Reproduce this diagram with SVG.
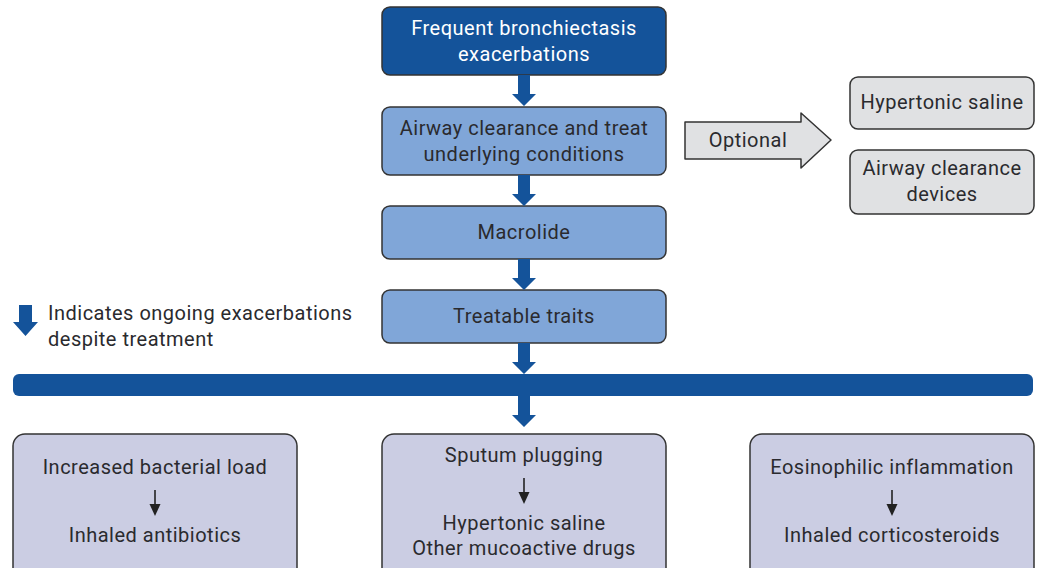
<svg xmlns="http://www.w3.org/2000/svg" width="1038" height="568" viewBox="0 0 1038 568">
<defs>
<style>
text{font-family:Roboto,"Liberation Sans",sans-serif;font-size:20px;letter-spacing:0.5px;fill:#2a2a2e;text-anchor:middle}
.box{stroke:#333;stroke-width:1.5}
.dark{fill:#14539a}
.mid{fill:#80a6d8}
.grey{fill:#e0e1e3}
.lav{fill:#cbcde3}
.wt{fill:#fff}
.barrow{fill:#14539a}
</style>
<path id="ba" d="M-6,0 H6 V19 H12 L0,31 L-12,19 H-6 Z"/>
</defs>
<rect width="1038" height="568" fill="#fff"/>
<g id="n1"><rect class="box dark" x="382" y="7" width="284" height="68" rx="8"/><text class="wt" x="524" y="35">Frequent bronchiectasis</text><text class="wt" x="524" y="61">exacerbations</text></g>
<g id="n2"><rect class="box mid" x="382" y="107" width="284" height="68" rx="8"/><text x="524" y="135">Airway clearance and treat</text><text x="524" y="161">underlying conditions</text></g>
<g id="n3"><rect class="box mid" x="382" y="206" width="284" height="53" rx="8"/><text x="524" y="239">Macrolide</text></g>
<g id="n4"><rect class="box mid" x="382" y="290" width="284" height="53" rx="8"/><text x="524" y="323">Treatable traits</text></g>
<g id="opt"><path class="box grey" d="M685,122 H801 V113 L831,140 L801,168 V159 H685 Z" stroke-linejoin="round"/><text x="748" y="147">Optional</text></g>
<g id="n5"><rect class="box grey" x="850" y="77" width="184" height="52" rx="8"/><text x="942" y="109">Hypertonic saline</text></g>
<g id="n6"><rect class="box grey" x="850" y="150" width="184" height="64" rx="8"/><text x="942" y="175">Airway clearance</text><text x="942" y="201">devices</text></g>
<g id="legend"><path class="barrow" d="M19,305 H32 V322 H38 L25.5,336 L13,322 H19 Z"/><text x="48" y="320" style="text-anchor:start">Indicates ongoing exacerbations</text><text x="48" y="346" style="text-anchor:start">despite treatment</text></g>
<g id="bar"><rect class="dark" x="13" y="374" width="1020" height="22" rx="6"/></g>
<g id="connectors">
<use href="#ba" x="524" y="75" class="barrow"/>
<use href="#ba" x="524" y="175" class="barrow"/>
<use href="#ba" x="524" y="259" class="barrow"/>
<use href="#ba" x="524" y="343" class="barrow"/>
<use href="#ba" x="524" y="396" class="barrow"/>
</g>
<g id="b1"><rect class="box lav" x="13" y="434" width="284" height="150" rx="12"/><text x="155" y="474">Increased bacterial load</text><path d="M155,490 V506" stroke="#222" stroke-width="1.6"/><path d="M149.5,504 H160.5 L155,516 Z" fill="#222"/><text x="155" y="542">Inhaled antibiotics</text></g>
<g id="b2"><rect class="box lav" x="382" y="434" width="284" height="150" rx="12"/><text x="524" y="462">Sputum plugging</text><path d="M524,478 V494" stroke="#222" stroke-width="1.6"/><path d="M518.5,492 H529.5 L524,504 Z" fill="#222"/><text x="524" y="530">Hypertonic saline</text><text x="524" y="555">Other mucoactive drugs</text></g>
<g id="b3"><rect class="box lav" x="750" y="434" width="284" height="150" rx="12"/><text x="892" y="474">Eosinophilic inflammation</text><path d="M892,490 V506" stroke="#222" stroke-width="1.6"/><path d="M886.5,504 H897.5 L892,516 Z" fill="#222"/><text x="892" y="542">Inhaled corticosteroids</text></g>
</svg>
